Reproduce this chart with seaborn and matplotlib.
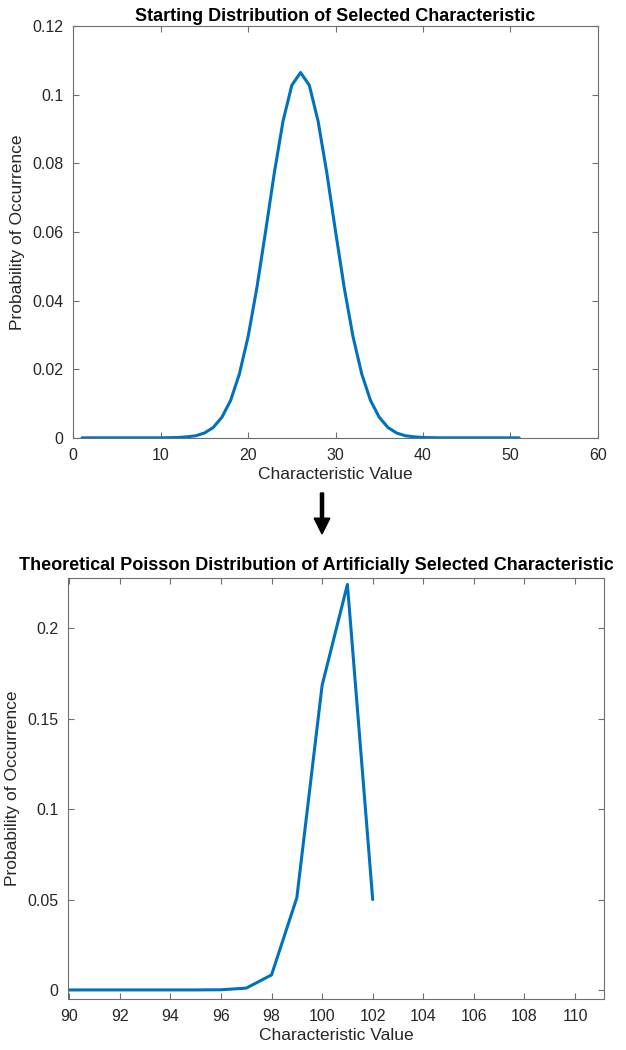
import numpy as np
import pandas as pd
import seaborn as sns
import matplotlib.pyplot as plt
from matplotlib.patches import FancyArrow
from matplotlib.ticker import FuncFormatter

# starting distribution
start_x = list(range(1, 52))
start_p = [0, 0, 0, 0, 0, 0, 0, 0, 0, 0,
           0.00005, 0.0001, 0.0003, 0.0006, 0.0014, 0.003, 0.006, 0.0109, 0.0186, 0.0295,
           0.0437, 0.0602, 0.0773, 0.0924, 0.1028, 0.1065, 0.1028, 0.0924, 0.0773, 0.0602,
           0.0437, 0.0295, 0.0186, 0.0109, 0.006, 0.003, 0.0014, 0.0006, 0.0003, 0.0001,
           0.00005, 0, 0, 0, 0, 0, 0, 0, 0, 0, 0]

# theoretical poisson distribution after selection
sel_x = list(range(90, 103))
sel_p = [0, 0, 0, 0, 0, 0, 0.0001, 0.001, 0.0083, 0.051, 0.1685, 0.2243, 0.050]

df_start = pd.DataFrame({"x": start_x, "p": start_p})
df_sel = pd.DataFrame({"x": sel_x, "p": sel_p})

sns.set_style("ticks")
plt.rcParams['font.family'] = ['Liberation Sans', 'DejaVu Sans']

blue = "#0072BD"
frame = "#6e6e6e"
txt = "#262626"
fmt = FuncFormatter(lambda v, pos: f"{v:g}")


def style_ax(ax):
    for s in ax.spines.values():
        s.set_color(frame)
        s.set_linewidth(0.8)
    ax.tick_params(direction="in", top=True, right=True, length=4, pad=7,
                   color=frame, labelcolor=txt, labelsize=11.5)
    ax.yaxis.set_major_formatter(fmt)


fig = plt.figure(figsize=(6.26, 10.5), dpi=100)

ax1 = fig.add_axes([0.117, 0.583, 0.838, 0.392])
sns.lineplot(data=df_start, x="x", y="p", ax=ax1, color=blue, linewidth=2.2)
ax1.set_xlim(0, 60)
ax1.set_ylim(0, 0.12)
ax1.set_xticks(np.arange(0, 61, 10))
ax1.set_yticks(np.arange(0, 0.121, 0.02))
ax1.set_xlabel("Characteristic Value", fontsize=12.5, color=txt, labelpad=3)
ax1.set_ylabel("Probability of Occurrence", fontsize=12.5, color=txt, labelpad=5)
ax1.set_title("Starting Distribution of Selected Characteristic",
              fontsize=13, fontweight="bold", pad=4, color="black")
style_ax(ax1)

ax2 = fig.add_axes([0.109, 0.0486, 0.856, 0.4005])
sns.lineplot(data=df_sel, x="x", y="p", ax=ax2, color=blue, linewidth=2.2)
ax2.set_xlim(89.96, 111.15)
ax2.set_ylim(-0.005, 0.2276)
ax2.set_xticks(np.arange(90, 111, 2))
ax2.set_yticks(np.arange(0, 0.21, 0.05))
ax2.set_xlabel("Characteristic Value", fontsize=12.5, color=txt, labelpad=3)
ax2.set_ylabel("Probability of Occurrence", fontsize=12.5, color=txt, labelpad=5)
style_ax(ax2)
# title is wider than the axes, so it is centred on the figure instead
fig.text(316 / 626, 1 - 566 / 1050,
         "Theoretical Poisson Distribution of Artificially Selected Characteristic",
         ha="center", va="center", fontsize=13, fontweight="bold", color="black")

# arrow between the two panels
fig.patches.append(FancyArrow(
    322 / 626, 1 - 493 / 1050, 0, -(535 - 493) / 1050 + 0.001,
    width=0.005, head_width=0.025, head_length=0.015,
    length_includes_head=True, color="black", transform=fig.transFigure))

plt.savefig("out.png", dpi=100)
